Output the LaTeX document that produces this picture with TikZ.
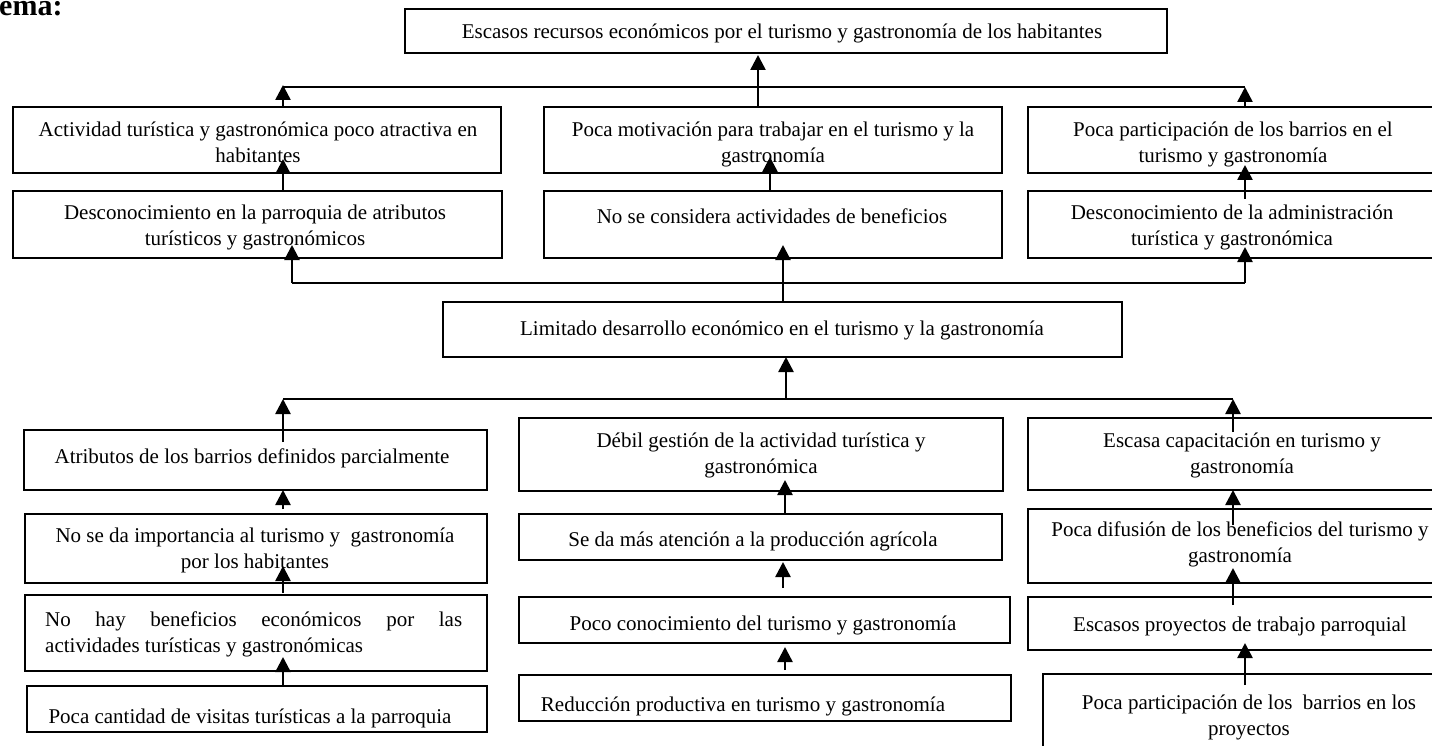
\documentclass[tikz,border=0pt]{standalone}
\usepackage{fontspec}
\setmainfont{Liberation Serif}
\usetikzlibrary{arrows.meta,calc}
\newcommand\bx[5]{\node[box, minimum width={#4-#2}, minimum height={#5-#3}] (#1) at ({(#2+#4)/2},{(#3+#5)/2}) {};}
\newcommand\tx[4]{\node[txt] (#1) at (#2,#3) {#4};}
\begin{document}
\begin{tikzpicture}[x=1pt,y=-1pt,
  box/.style={draw, line width=1.2pt, inner sep=0pt, outer sep=0pt},
  txt/.style={font=\fontsize{21}{26}\selectfont, align=center, inner sep=0pt, anchor=north, yshift=-3pt, execute at begin node=\strut},
  conn/.style={line width=1.8pt},
  arr/.style={line width=2.5pt, -{Triangle[length=15pt,width=15pt]}},
]
\useasboundingbox (0,0) rectangle (1432,746);
\clip (0,0) rectangle (1432,746);

\node[font=\fontsize{30}{36}\selectfont\bfseries, anchor=base west, inner sep=0pt] (hdr) at (-1,16) {ema:};

% boxes
\bx{t}{405}{9}{1167}{53}
\bx{a1}{13}{107}{501}{173}
\bx{a2}{544}{107}{1002}{173}
\bx{a3}{1028}{107}{1440}{173}
\bx{b1}{13}{191}{502}{258}
\bx{b2}{544}{191}{1002}{258}
\bx{b3}{1028}{191}{1440}{258}
\bx{l}{443}{302}{1122}{357}
\bx{c1}{24}{430}{487}{490}
\bx{c2}{519}{418}{1003}{491}
\bx{c3}{1028}{418}{1440}{490}
\bx{d1}{25}{514}{487}{583}
\bx{d2}{519}{514}{1002}{560}
\bx{d3}{1028}{509}{1440}{583}
\bx{e1}{25}{595}{487}{671}
\bx{e2}{519}{597}{1010}{643}
\bx{e3}{1028}{597}{1440}{650}
\bx{f1}{27}{686}{487}{732}
\bx{f2}{519}{675}{1011}{721}
\bx{f3}{1043}{674}{1440}{770}

% texts
\tx{tt}{782}{17}{Escasos recursos económicos por el turismo y gastronomía de los habitantes}
\tx{a1t}{258}{119}{Actividad turística y gastronómica poco atractiva en\\habitantes}
\tx{a2t}{773}{119}{Poca motivación para trabajar en el turismo y la\\gastronomía}
\tx{a3t}{1233}{119}{Poca participación de los barrios en el\\turismo y gastronomía}
\tx{b1t}{255}{202}{Desconocimiento en la parroquia de atributos\\turísticos y gastronómicos}
\tx{b2t}{772}{202}{No se considera actividades de beneficios}
\tx{b3t}{1232}{202}{Desconocimiento de la administración\\turística y gastronómica}
\tx{lt}{782}{314}{Limitado desarrollo económico en el turismo y la gastronomía}
\tx{c1t}{252}{442}{Atributos de los barrios definidos parcialmente}
\tx{c2t}{761}{430}{Débil gestión de la actividad turística y\\gastronómica}
\tx{c3t}{1242}{430}{Escasa capacitación en turismo y\\gastronomía}
\tx{d1t}{255}{525}{No se da importancia al turismo y\ \ gastronomía\\por los habitantes}
\tx{d2t}{753}{525}{Se da más atención a la producción agrícola}
\tx{d3t}{1240}{519}{Poca difusión de los beneficios del turismo y\\gastronomía}
\node[txt, text width=417pt, align=justify, anchor=north west] (e1t) at (45,605) {No hay beneficios económicos por las\linebreak actividades turísticas y gastronómicas};
\tx{e2t}{763}{609}{Poco conocimiento del turismo y gastronomía}
\tx{e3t}{1240}{610}{Escasos proyectos de trabajo parroquial}
\tx{f1t}{250}{702}{Poca cantidad de visitas turísticas a la parroquia}
\tx{f2t}{743}{690}{Reducción productiva en turismo y gastronomía}
\tx{f3t}{1249}{692}{Poca participación de los\ \ barrios en los\\proyectos}

% column coordinates
\coordinate (x283) at (283,0);
\coordinate (x758) at (758,0);
\coordinate (x770) at (770,0);
\coordinate (x783) at (783,0);
\coordinate (x785) at (785,0);
\coordinate (x1233) at (1233,0);
\coordinate (x1245) at (1245,0);

% top section
\coordinate (h1L) at (283,87);
\coordinate (h1R) at (1245,87);
\draw[conn] (h1L) -- (h1R);
\draw[arr] (a1.north -| h1L) -- ($(h1L)+(0,-2)$);
\draw[arr] (a3.north -| h1R) -- (h1R);
\draw[arr] (a2.north -| x758) -- ($(t.south -| x758)+(0,2)$);
\draw[arr] (b1.north -| x283) -- ($(a1.south -| x283)+(0,-14)$);
\draw[arr] (b2.north -| x770) -- ($(a2.south -| x770)+(0,-16)$);
\draw[arr] ($(b3.north -| x1245)+(0,8)$) -- ($(a3.south -| x1245)+(0,-8)$);

% second section
\coordinate (h2L) at (292,283);
\coordinate (h2R) at (1245,283);
\draw[conn] (h2L) -- (h2R);
\draw[arr] (h2L) -- ($(b1.south -| h2L)+(0,-13)$);
\draw[arr] (h2R) -- ($(b3.south -| h2R)+(0,-11)$);
\draw[arr] (l.north -| x783) -- ($(b2.south -| x783)+(0,-13)$);

% third section
\coordinate (h3L) at (283,399);
\coordinate (h3R) at (1233,399);
\coordinate (h3M) at (786,399);
\draw[conn] (h3L) -- (h3R);
\draw[arr] (h3M) -- (l.south -| h3M);
\draw[arr] ($(c1.north -| h3L)+(0,12)$) -- (h3L);
\draw[arr] ($(c3.north -| h3R)+(0,14)$) -- (h3R);

% lower columns
\draw[arr] ($(d1.north -| x283)+(0,-5)$) -- (c1.south -| x283);
\draw[arr] ($(e1.north -| x283)+(0,-2)$) -- ($(d1.south -| x283)+(0,-17)$);
\draw[arr] (f1.north -| x283) -- ($(e1.south -| x283)+(0,-14)$);
\draw[arr] (d2.north -| x785) -- ($(c2.south -| x785)+(0,-11)$);
\draw[arr] ($(e2.north -| x783)+(0,-9)$) -- ($(d2.south -| x783)+(0,2)$);
\draw[arr] ($(f2.north -| x785)+(0,-5)$) -- ($(e2.south -| x785)+(0,4)$);
\draw[arr] ($(d3.north -| x1233)+(0,16)$) -- (c3.south -| x1233);
\draw[arr] ($(e3.north -| x1233)+(0,8)$) -- ($(d3.south -| x1233)+(0,-15)$);
\draw[arr] ($(f3.north -| x1245)+(0,11)$) -- ($(e3.south -| x1245)+(0,-7)$);
\end{tikzpicture}
\end{document}
